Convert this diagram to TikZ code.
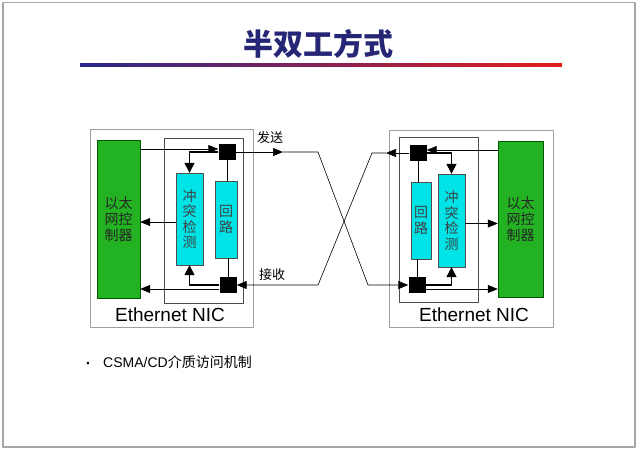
\documentclass[tikz,border=0pt]{standalone}
\usepackage{fontspec}
\setmainfont{Liberation Sans}
\newfontfamily\cjk{Noto Sans CJK SC}
\usepackage{tikz}
\usetikzlibrary{arrows.meta}
\definecolor{nicgreen}{RGB}{34,178,34}
\definecolor{niccyan}{RGB}{0,228,232}
\definecolor{titleblue}{RGB}{38,38,118}
\definecolor{ruleblue}{RGB}{40,40,140}
\definecolor{rulered}{RGB}{228,28,28}

\begin{document}
\begin{tikzpicture}[x=1pt, y=-1pt, line join=round,
  nicbox/.style={draw=gray!75, line width=0.8pt, inner sep=0pt},
  ctrl/.style={draw=green!35!black, fill=nicgreen, inner sep=0pt, text=black!85,
    font=\cjk\fontsize{14}{16}\selectfont, align=center},
  unit/.style={draw=gray!60!black, fill=niccyan, inner sep=0pt, text=black!75,
    font=\cjk\fontsize{14}{15.5}\selectfont, align=center},
  port/.style={fill=black, minimum width=17pt, minimum height=16pt, inner sep=0pt},
  arr/.style={-{Triangle[length=10pt,width=8pt]}, line width=0.6pt},
  thickarr/.style={-{Triangle[length=10pt,width=10pt]}, line width=1.4pt},
  wire/.style={line width=0.6pt}]
\useasboundingbox (0,0) rectangle (640,451);
\draw[gray!70, line width=1.2pt] (3,2.5) rectangle (635,447);

% title
\node[font=\cjk\bfseries\fontsize{30}{32}\selectfont, text=titleblue] (title) at (318,44) {半双工方式};
\shade[left color=ruleblue, right color=rulered] (80,63.5) rectangle (562,66.5);

% left NIC
\node[nicbox, minimum width=163pt, minimum height=198pt] (lnic) at (171.5,228) {};
\node[nicbox, draw=gray!60!black, minimum width=79pt, minimum height=165pt] (lin) at (203.5,220.5) {};
\node[ctrl, minimum width=43pt, minimum height=158pt] (lctrl) at (118.5,219) {以太\\网控\\制器};
\node[unit, minimum width=27pt, minimum height=92pt] (lcd) at (189.5,219) {冲\\突\\检\\测};
\node[unit, minimum width=22pt, minimum height=77pt] (lloop) at (226,219.5) {回\\路};
\node[port] (ltx) at (227,152) {};
\node[port] (lrx) at (228,285) {};
\node[font=\fontsize{19}{22}\selectfont] (lname) at (170,315) {Ethernet NIC};

% right NIC
\node[nicbox, minimum width=164pt, minimum height=197pt] (rnic) at (471,228.5) {};
\node[nicbox, draw=gray!60!black, minimum width=79pt, minimum height=165pt] (rin) at (438.5,219.5) {};
\node[ctrl, minimum width=45pt, minimum height=156pt] (rctrl) at (520.5,219) {以太\\网控\\制器};
\node[unit, minimum width=27pt, minimum height=93pt] (rcd) at (451.5,220.5) {冲\\突\\检\\测};
\node[unit, minimum width=20pt, minimum height=77pt] (rloop) at (421,220.5) {回\\路};
\node[port] (rtx) at (418,153) {};
\node[port] (rrx) at (417,285) {};
\node[font=\fontsize{19}{22}\selectfont] (rname) at (474,315) {Ethernet NIC};

% left wiring
\coordinate (ltxin) at ([yshift=3]ltx.west);
\coordinate (lrxout) at ([yshift=-4]lrx.west);
\coordinate (lcdout) at ([yshift=-3]lcd.west);
\draw[arr] (ltxin -| lctrl.east) -- (ltxin);
\draw[thickarr] (ltx.west) -| (lcd.north);
\draw[thickarr] (lrx.west) -| (lcd.south);
\draw[arr] (lrxout) -- (lrxout -| lctrl.east);
\draw[arr] (lcdout) -- (lcdout -| lctrl.east);
\draw[wire] (ltx.south) -- (ltx.south |- lloop.north);
\draw[wire] (lloop.south -| lrx.north) -- (lrx.north);

% right wiring
\coordinate (rtxin) at ([yshift=3]rtx.east);
\coordinate (rrxout) at ([yshift=-4]rrx.east);
\coordinate (rcdout) at ([yshift=-3]rcd.east);
\draw[arr] (rtxin -| rctrl.west) -- (rtxin);
\draw[thickarr] (rtx.east) -| (rcd.north);
\draw[thickarr] (rrx.east) -| (rcd.south);
\draw[arr] (rrxout) -- (rrxout -| rctrl.west);
\draw[arr] (rcdout) -- (rcdout -| rctrl.west);
\draw[wire] (rtx.south) -- (rtx.south |- rloop.north);
\draw[wire] (rloop.south -| rrx.north) -- (rrx.north);

% crossed cable
\coordinate (lsend) at (283,152);
\coordinate (lbend) at (318,152);
\coordinate (rbend) at (368,285);
\coordinate (rsend) at (386,153);
\coordinate (rtop) at (372,153);
\coordinate (lbot) at (318,285);
\draw[arr] (ltx.east) -- (lsend);
\draw[arr] (lsend) -- (lbend) -- (rbend) -- (rrx.west);
\draw[arr] (rtx.west) -- (rsend);
\draw[arr] (rsend) -- (rtop) -- (lbot) -- (lrx.east);
\node[font=\cjk\fontsize{13}{15}\selectfont] (send) at (270,138) {发送};
\node[font=\cjk\fontsize{13}{15}\selectfont] (recv) at (272,275) {接收};

% bullet
\node[font=\fontsize{22}{22}\selectfont] (dot) at (88,366) {·};
\node[anchor=west, inner sep=0pt, font=\fontsize{14}{16}\selectfont] (item) at (103,362) {CSMA/CD{\cjk 介质访问机制}};
\end{tikzpicture}
\end{document}
